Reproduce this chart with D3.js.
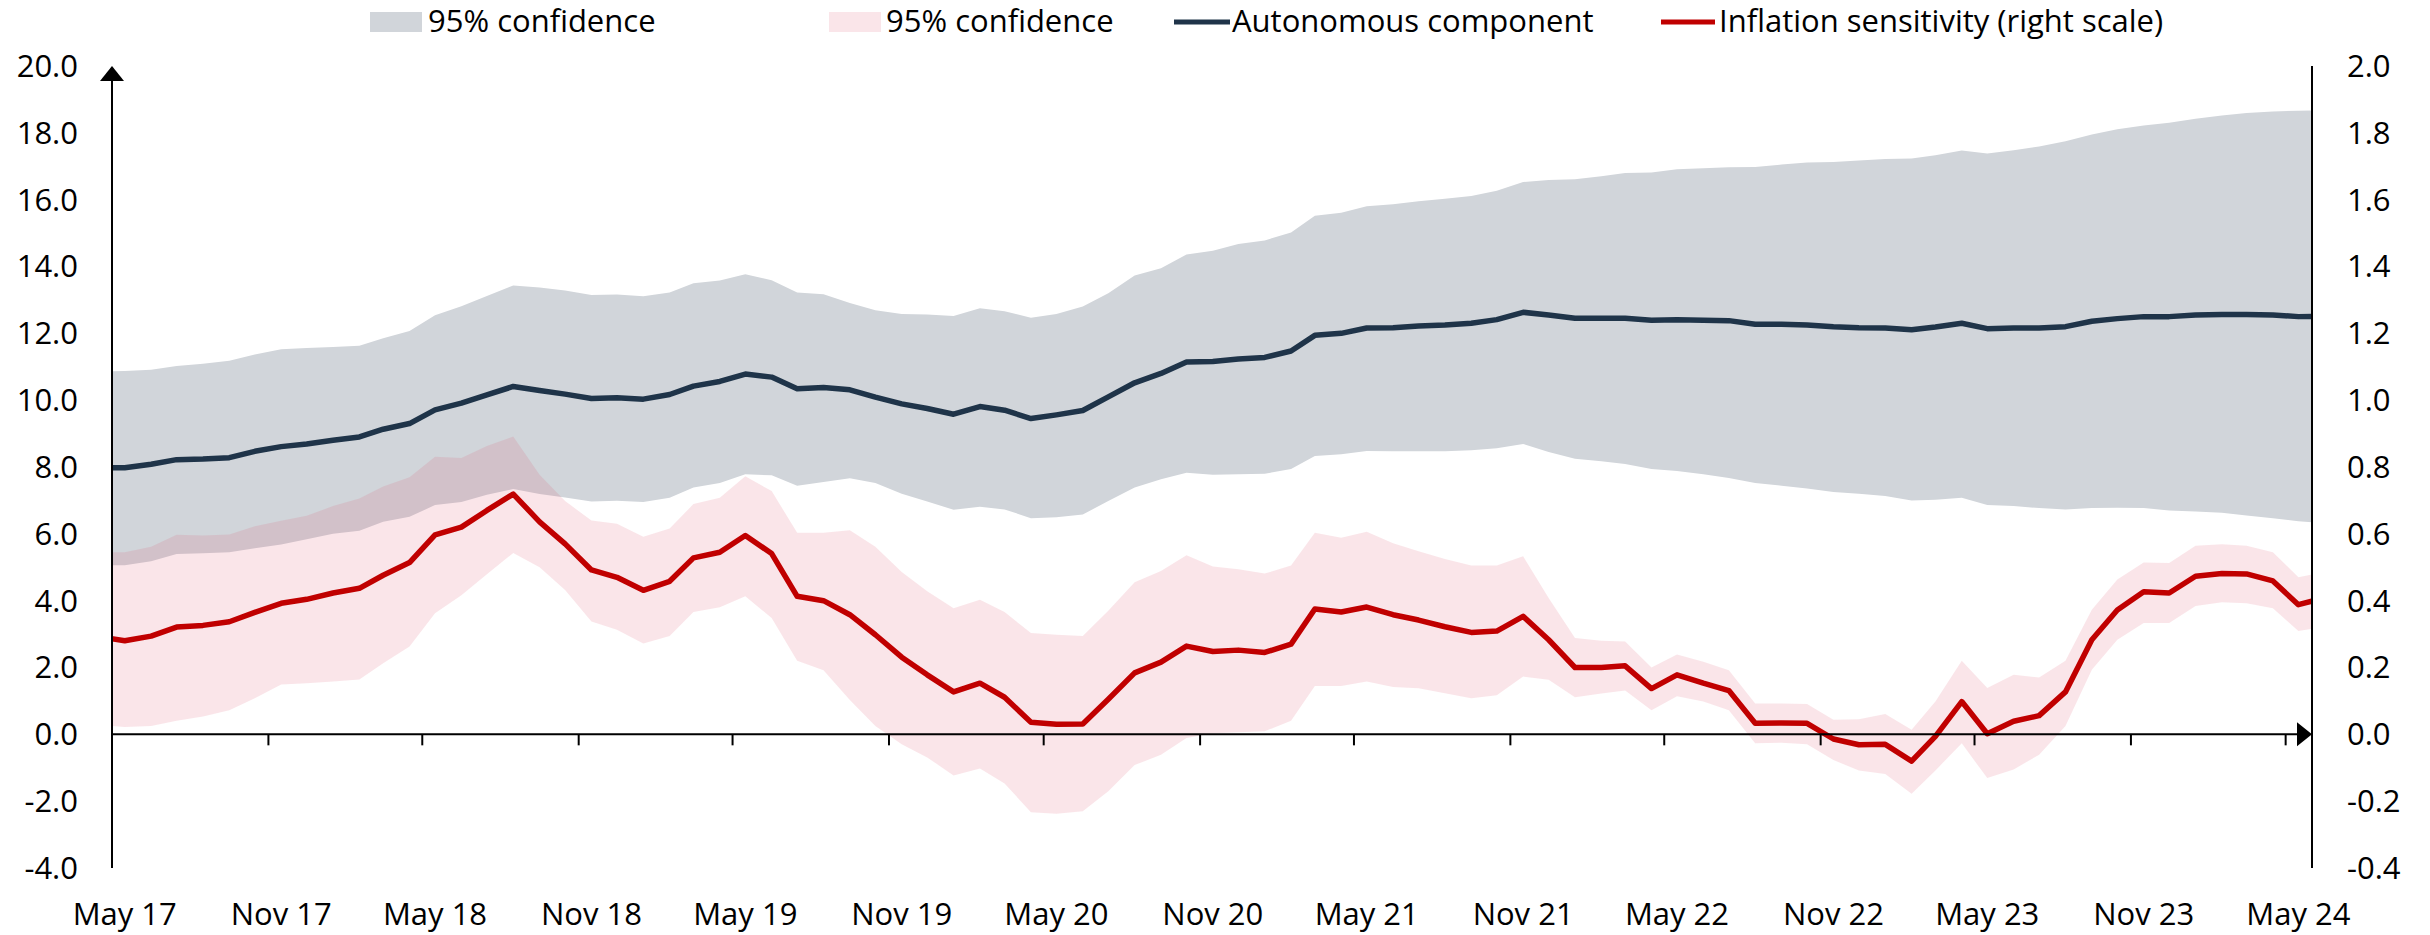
<!DOCTYPE html>
<html>
  <head>
    <meta charset="utf-8" />
    <script src="https://d3js.org/d3.v7.min.js"></script>
    <style>
      body { margin: 0; background: #fff; }
      text { font-family: "Open Sans", sans-serif; font-size: 31px; fill: #000; }
    </style>
  </head>
  <body>
    <div id="my_chart"></div>
    <script>
      // monthly observations, Apr 17 .. Jun 24 (first and last are clipped by the axes)
      const months = d3.timeMonth.range(new Date(2017, 3, 1), new Date(2024, 6, 1));

      // autonomous component and its 95% band (left scale)
      const autonomous = [7.98, 7.98, 8.08, 8.22, 8.24, 8.28, 8.47, 8.61, 8.69, 8.80, 8.90, 9.13, 9.30, 9.71, 9.91, 10.16, 10.41, 10.29, 10.18, 10.05, 10.07,
        10.03, 10.17, 10.42, 10.56, 10.78, 10.69, 10.34, 10.38, 10.31, 10.09,
        9.89, 9.75, 9.58, 9.81, 9.70, 9.45, 9.56, 9.69, 10.10, 10.52,
        10.80, 11.14, 11.16, 11.23, 11.28, 11.47, 11.94, 12.00, 12.16, 12.17,
        12.22, 12.25, 12.30, 12.41, 12.63, 12.55, 12.45, 12.45, 12.45, 12.39,
        12.41, 12.39, 12.38, 12.27, 12.27, 12.25, 12.20, 12.17, 12.16, 12.11,
        12.19, 12.30, 12.14, 12.16, 12.16, 12.20, 12.36, 12.44, 12.50, 12.50,
        12.55, 12.56, 12.56, 12.55, 12.50, 12.51];
      const autoUpper = [10.86, 10.87, 10.91, 11.02, 11.09, 11.18, 11.37, 11.52, 11.56, 11.59, 11.63, 11.85, 12.07, 12.54, 12.81, 13.12, 13.43, 13.37, 13.28, 13.15, 13.16,
        13.11, 13.22, 13.50, 13.58, 13.77, 13.59, 13.22, 13.17, 12.91, 12.69,
        12.58, 12.56, 12.52, 12.75, 12.66, 12.47, 12.58, 12.80, 13.20, 13.73,
        13.95, 14.36, 14.47, 14.67, 14.78, 15.02, 15.52, 15.61, 15.80, 15.86,
        15.95, 16.03, 16.11, 16.27, 16.53, 16.59, 16.61, 16.70, 16.80, 16.81,
        16.91, 16.94, 16.97, 16.98, 17.05, 17.11, 17.13, 17.17, 17.22, 17.23,
        17.33, 17.47, 17.38, 17.48, 17.59, 17.75, 17.95, 18.11, 18.22, 18.30,
        18.42, 18.52, 18.59, 18.64, 18.66, 18.67];
      const autoLower = [5.06, 5.06, 5.18, 5.40, 5.42, 5.45, 5.57, 5.68, 5.84, 6.00, 6.09, 6.36, 6.51, 6.86, 6.95, 7.17, 7.34, 7.19, 7.09, 6.97, 6.99,
        6.95, 7.08, 7.39, 7.52, 7.78, 7.75, 7.44, 7.55, 7.66, 7.52,
        7.20, 6.97, 6.72, 6.81, 6.73, 6.47, 6.50, 6.58, 6.98, 7.39,
        7.63, 7.83, 7.77, 7.78, 7.80, 7.94, 8.33, 8.38, 8.48, 8.47,
        8.47, 8.47, 8.50, 8.56, 8.69, 8.45, 8.25, 8.17, 8.09, 7.94,
        7.88, 7.78, 7.67, 7.52, 7.44, 7.36, 7.25, 7.20, 7.13, 7.00,
        7.02, 7.08, 6.86, 6.83, 6.77, 6.73, 6.77, 6.78, 6.77, 6.70,
        6.67, 6.63, 6.55, 6.47, 6.38, 6.31];

      // inflation sensitivity and its 95% band (right scale)
      const sensitivity = [0.292, 0.280, 0.294, 0.321, 0.326, 0.337, 0.365, 0.392, 0.404, 0.423, 0.437, 0.476, 0.514, 0.597, 0.620, 0.670, 0.719, 0.636, 0.570, 0.492, 0.470,
        0.431, 0.458, 0.528, 0.545, 0.595, 0.541, 0.413, 0.400, 0.358, 0.298,
        0.231, 0.178, 0.127, 0.153, 0.111, 0.036, 0.030, 0.031, 0.105, 0.184,
        0.216, 0.264, 0.248, 0.252, 0.245, 0.270, 0.375, 0.366, 0.381, 0.358,
        0.342, 0.322, 0.305, 0.309, 0.353, 0.283, 0.200, 0.200, 0.205, 0.137,
        0.178, 0.153, 0.131, 0.033, 0.034, 0.033, -0.014, -0.031, -0.030, -0.080,
        -0.006, 0.098, 0.002, 0.039, 0.056, 0.127, 0.283, 0.372, 0.427, 0.423,
        0.473, 0.481, 0.480, 0.459, 0.388, 0.409];
      const sensUpper = [0.545, 0.545, 0.561, 0.597, 0.595, 0.598, 0.623, 0.639, 0.654, 0.683, 0.706, 0.742, 0.769, 0.831, 0.827, 0.863, 0.891, 0.777, 0.698, 0.640, 0.630,
        0.591, 0.616, 0.689, 0.708, 0.772, 0.728, 0.603, 0.603, 0.611, 0.561,
        0.486, 0.428, 0.377, 0.403, 0.366, 0.303, 0.298, 0.294, 0.370, 0.455,
        0.489, 0.536, 0.502, 0.494, 0.481, 0.505, 0.603, 0.588, 0.606, 0.572,
        0.548, 0.525, 0.505, 0.505, 0.533, 0.408, 0.288, 0.280, 0.278, 0.200,
        0.239, 0.217, 0.192, 0.092, 0.092, 0.091, 0.044, 0.045, 0.061, 0.014,
        0.098, 0.220, 0.139, 0.178, 0.170, 0.220, 0.373, 0.463, 0.514, 0.513,
        0.564, 0.569, 0.564, 0.545, 0.470, 0.486];
      const sensLower = [0.028, 0.022, 0.025, 0.041, 0.053, 0.072, 0.108, 0.149, 0.153, 0.158, 0.164, 0.213, 0.263, 0.362, 0.416, 0.479, 0.543, 0.500, 0.432, 0.338, 0.313,
        0.272, 0.294, 0.366, 0.380, 0.413, 0.348, 0.220, 0.192, 0.103, 0.025,
        -0.030, -0.069, -0.123, -0.102, -0.147, -0.233, -0.238, -0.230, -0.170, -0.092,
        -0.061, -0.011, 0.003, 0.006, 0.009, 0.041, 0.145, 0.145, 0.158, 0.142,
        0.138, 0.123, 0.108, 0.117, 0.173, 0.163, 0.111, 0.122, 0.131, 0.072,
        0.114, 0.098, 0.072, -0.027, -0.025, -0.030, -0.077, -0.108, -0.119, -0.178,
        -0.108, -0.027, -0.131, -0.105, -0.061, 0.025, 0.193, 0.283, 0.333, 0.333,
        0.384, 0.395, 0.392, 0.377, 0.309, 0.322];

      const leftTicks = [-4, -2, 0, 2, 4, 6, 8, 10, 12, 14, 16, 18, 20];
      const rightTicks = [-0.4, -0.2, 0, 0.2, 0.4, 0.6, 0.8, 1.0, 1.2, 1.4, 1.6, 1.8, 2.0];
      const xTickLabels = ["May 17", "Nov 17", "May 18", "Nov 18", "May 19", "Nov 19", "May 20", "Nov 20",
        "May 21", "Nov 21", "May 22", "Nov 22", "May 23", "Nov 23", "May 24"];
      const legendLabels = ["95% confidence", "95% confidence", "Autonomous component", "Inflation sensitivity (right scale)"];

      const colors = { grey: "#d1d5da", pink: "#e0506e", navy: "#1f3449", red: "#c00000" };

      const width = 2430, height = 935;
      const plotLeft = 112, plotRight = 2312, plotTop = 66, plotBottom = 868;

      const svg = d3.select("#my_chart").append("svg")
        .attr("width", width).attr("height", height);

      const x = d3.scaleTime()
        .domain([new Date(2017, 4, 1), new Date(2024, 5, 1)])
        .range([plotLeft, plotRight]);
      const yL = d3.scaleLinear().domain([-4, 20]).range([plotBottom, plotTop]);
      const yR = d3.scaleLinear().domain([-0.4, 2.0]).range([plotBottom, plotTop]);

      // points sit in the middle of each month
      const mid = (d) => x(d3.timeDay.offset(d, 15));

      const data = months.map((m, i) => ({
        m, a: autonomous[i], aHi: autoUpper[i], aLo: autoLower[i],
        s: sensitivity[i], sHi: sensUpper[i], sLo: sensLower[i]
      }));

      svg.append("clipPath").attr("id", "plot")
        .append("rect").attr("x", plotLeft).attr("y", 0)
        .attr("width", plotRight - plotLeft).attr("height", height);

      const plot = svg.append("g").attr("clip-path", "url(#plot)");

      plot.append("path").datum(data)
        .attr("fill", colors.grey)
        .attr("d", d3.area().x((d) => mid(d.m)).y0((d) => yL(d.aLo)).y1((d) => yL(d.aHi)));

      plot.append("path").datum(data)
        .attr("fill", colors.pink).attr("fill-opacity", 0.15)
        .attr("d", d3.area().x((d) => mid(d.m)).y0((d) => yR(d.sLo)).y1((d) => yR(d.sHi)));

      plot.append("path").datum(data)
        .attr("fill", "none").attr("stroke", colors.navy).attr("stroke-width", 5.5)
        .attr("stroke-linejoin", "round")
        .attr("d", d3.line().x((d) => mid(d.m)).y((d) => yL(d.a)));

      plot.append("path").datum(data)
        .attr("fill", "none").attr("stroke", colors.red).attr("stroke-width", 5.5)
        .attr("stroke-linejoin", "round")
        .attr("d", d3.line().x((d) => mid(d.m)).y((d) => yR(d.s)));

      // axes
      const axis = svg.append("g").attr("stroke", "#000").attr("stroke-width", 2);
      const y0 = yL(0);
      axis.append("line").attr("x1", plotLeft).attr("x2", plotRight - 14).attr("y1", y0).attr("y2", y0);
      axis.append("line").attr("x1", plotLeft).attr("x2", plotLeft).attr("y1", plotBottom).attr("y2", plotTop + 14);
      axis.append("line").attr("x1", plotRight).attr("x2", plotRight).attr("y1", plotBottom).attr("y2", plotTop);
      svg.append("path").attr("fill", "#000")
        .attr("d", `M${plotRight},${y0} L${plotRight - 15},${y0 - 12} L${plotRight - 15},${y0 + 12} Z`);
      svg.append("path").attr("fill", "#000")
        .attr("d", `M${plotLeft},${plotTop} L${plotLeft - 12},${plotTop + 15} L${plotLeft + 12},${plotTop + 15} Z`);

      const tickMonths = d3.timeMonth.range(new Date(2017, 4, 1), new Date(2024, 5, 1), 6);
      axis.selectAll(".tick").data(tickMonths).enter().append("line")
        .attr("x1", (d) => x(d)).attr("x2", (d) => x(d))
        .attr("y1", y0).attr("y2", y0 + 11);

      svg.selectAll(".xlab").data(tickMonths).enter().append("text")
        .attr("x", (d) => mid(d)).attr("y", 925)
        .attr("text-anchor", "middle")
        .text((d, i) => xTickLabels[i]);

      svg.selectAll(".ylab").data(leftTicks).enter().append("text")
        .attr("x", 78).attr("y", (d) => yL(d))
        .attr("dy", "0.35em").attr("text-anchor", "end")
        .text((d) => d.toFixed(1));

      svg.selectAll(".rlab").data(rightTicks).enter().append("text")
        .attr("x", 2347).attr("y", (d) => yR(d))
        .attr("dy", "0.35em")
        .text((d) => d.toFixed(1));

      // legend
      const legendX = [370, 829, 1174, 1661];
      const legend = svg.append("g");
      legend.append("rect").attr("x", legendX[0]).attr("y", 12).attr("width", 52).attr("height", 20).attr("fill", colors.grey);
      legend.append("rect").attr("x", legendX[1]).attr("y", 12).attr("width", 52).attr("height", 20)
        .attr("fill", colors.pink).attr("fill-opacity", 0.15);
      legend.append("line").attr("x1", legendX[2]).attr("x2", legendX[2] + 56).attr("y1", 22).attr("y2", 22)
        .attr("stroke", colors.navy).attr("stroke-width", 5);
      legend.append("line").attr("x1", legendX[3]).attr("x2", legendX[3] + 54).attr("y1", 22).attr("y2", 22)
        .attr("stroke", colors.red).attr("stroke-width", 5);
      const textX = [428, 886, 1232, 1719];
      legend.selectAll("text").data(legendLabels).enter().append("text")
        .attr("x", (d, i) => textX[i]).attr("y", 32)
        .text((d) => d);
    </script>
  </body>
</html>
